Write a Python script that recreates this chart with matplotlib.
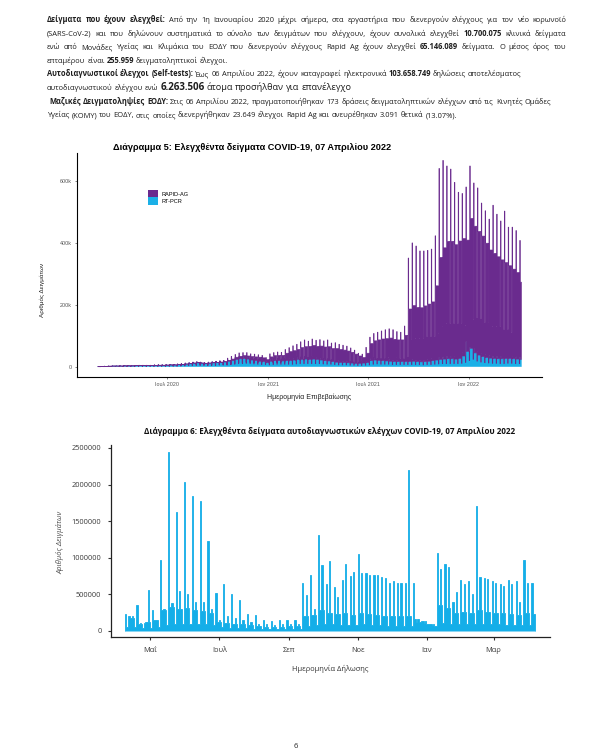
import matplotlib
matplotlib.use('Agg')
import matplotlib.pyplot as plt
import matplotlib.dates as mdates
from matplotlib.patches import Patch
import numpy as np
import pandas as pd

W, H = 613, 754
BODY = ['Open Sans', 'DejaVu Sans']
LIB = ['Liberation Sans', 'DejaVu Sans']
plt.rcParams['font.family'] = BODY

PURPLE = '#6A2B8E'
BLUE = '#1BB0E7'
BLUE2 = '#14AEE8'

# ---------------- Διάγραμμα 5 (thousands per day), week 0 = Mon 24 Feb 2020 ----------------
start1, end1, week0_1 = '2020-02-26', '2022-04-06', '2020-02-24'

pcr_high = [0.5, 1, 2, 2.5, 3, 3, 3.5, 4, 4, 4, 4.5, 5, 5, 5, 5, 6, 6.5, 6.5, 7,
            8, 8, 9, 10, 12, 13, 15, 16, 15, 14, 15, 16, 18, 19, 20, 23, 26,
            30, 33, 34, 32, 28, 26, 23, 22, 18, 24, 26, 26, 25, 26, 27, 28, 31,
            31, 32, 31, 32, 31, 28, 26, 25, 22, 20, 18, 18, 17, 16, 14, 14, 16, 18,
            26, 28, 27, 26, 25, 23, 22, 22, 22, 22, 22, 23, 22, 21, 22, 23, 26,
            28, 31, 32, 34, 34, 32, 35, 45, 81, 62, 60, 50, 43, 39, 36, 35, 34,
            34, 35, 35, 34, 32, 31]
pcr_mid = [0.3, 0.8, 1.5, 2, 2.5, 2.5, 2.5, 3, 3, 3, 3.5, 4, 4, 4, 4, 4.5, 5, 5, 5.5,
           6, 6, 7, 8, 9, 10, 12, 13, 12, 11, 12, 13, 14, 15, 16, 18, 20,
           24, 26, 27, 25, 22, 20, 18, 17, 14, 18, 20, 20, 19, 20, 21, 22, 24,
           24, 25, 24, 25, 24, 22, 20, 19, 17, 15, 14, 14, 13, 12, 11, 11, 12, 14,
           20, 22, 21, 20, 19, 18, 17, 17, 17, 17, 17, 18, 17, 16, 17, 18, 20,
           22, 24, 25, 26, 26, 25, 27, 35, 50, 60, 45, 38, 33, 30, 28, 27, 26,
           26, 27, 27, 26, 25, 24]
pcr_low = [0.1, 0.3, 0.6, 0.8, 1, 1, 1, 1.2, 1.2, 1.2, 1.4, 1.6, 1.6, 1.6, 1.6, 1.8, 2, 2, 2.2,
           2.4, 2.4, 2.8, 3.2, 3.6, 4, 5, 5, 5, 4.5, 5, 5, 6, 6, 6, 7, 8,
           10, 10, 11, 10, 9, 8, 7, 7, 6, 7, 8, 8, 8, 8, 8, 9, 10,
           10, 10, 10, 10, 10, 9, 8, 8, 7, 6, 6, 6, 5, 5, 4, 4, 5, 6,
           8, 9, 8, 8, 8, 7, 7, 7, 7, 7, 7, 7, 7, 6, 7, 7, 8,
           9, 10, 10, 10, 10, 10, 11, 14, 20, 24, 18, 15, 13, 12, 11, 11, 10,
           10, 11, 11, 10, 10, 10]
rapid_peak = [0] * 34 + [5, 8, 10, 12, 12, 14, 14, 15, 16, 15, 12, 18, 20, 22, 22,
                         30, 35, 40, 42, 50, 55, 52, 58, 55, 60, 58, 62, 55,
                         58, 55, 52, 50, 45, 40, 30, 25, 45, 70, 80, 85, 90,
                         95, 100, 98, 92, 90, 110, 330, 378, 369, 354, 353, 354, 355,
                         396, 611, 636, 616, 606, 565, 530, 516, 501, 588, 535, 529, 487,
                         466, 442, 488, 460, 438, 469, 417, 418, 409, 378]
rapid_mid = [0] * 34 + [3, 5, 7, 8, 9, 10, 11, 12, 13, 12, 9, 14, 16, 17, 18,
                        24, 28, 30, 32, 38, 40, 42, 44, 42, 45, 44, 46, 42,
                        44, 42, 40, 38, 35, 30, 24, 18, 30, 55, 62, 66, 70,
                        72, 75, 72, 70, 70, 85, 170, 180, 175, 175, 180, 185, 190,
                        240, 330, 360, 380, 380, 370, 380, 380, 360, 420, 410, 400, 390,
                        370, 350, 340, 330, 320, 310, 300, 290, 280, 250]
rapid_low = [0] * 34 + [1, 2, 3, 3, 4, 4, 4, 5, 5, 4, 4, 6, 6, 7, 7,
                        8, 10, 10, 12, 12, 14, 14, 15, 15, 15, 15, 16, 14,
                        14, 13, 13, 12, 12, 10, 8, 6, 8, 15, 18, 20, 20,
                        22, 22, 22, 20, 20, 25, 80, 85, 85, 85, 90, 90, 90,
                        100, 120, 130, 130, 130, 130, 130, 120, 100, 130, 140, 140, 130,
                        130, 120, 120, 120, 110, 110, 100, 100, 100, 90]
ticks1 = ['2020-07-01', '2021-01-01', '2021-07-01', '2022-01-01']
ticklabels1 = ['Ιουλ 2020', 'Ιαν 2021', 'Ιουλ 2021', 'Ιαν 2022']
yticks1 = [0, 200000, 400000, 600000]
yticklabels1 = ['0', '200k', '400k', '600k']

# ---------------- Διάγραμμα 6 (thousands per day), week 0 = Mon 5 Apr 2021 ----------------
start2, end2, week0_2 = '2021-04-09', '2022-04-06', '2021-04-05'

self_mon = [230, 200, 350, 110, 280, 976, 2440, 1630, 2030, 1850, 1780, 1230, 520, 640,
            500, 430, 230, 220, 150, 130, 150, 150, 150, 660, 770, 1310, 640, 600,
            700, 750, 1050, 790, 760, 740, 650, 650, 650, 650, 130, 100, 1060, 920,
            390, 700, 680, 1710, 720, 680, 640, 690, 680, 970, 650]
self_thu = [200, 200, 110, 555, 150, 300, 380, 550, 500, 400, 400, 300, 150, 200,
            180, 150, 120, 100, 90, 80, 90, 90, 90, 490, 300, 900, 950, 470,
            910, 810, 790, 770, 760, 720, 680, 650, 2200, 120, 110, 80, 840, 870,
            530, 640, 500, 740, 710, 660, 620, 640, 400, 650, 0]
self_mid = [230, 180, 100, 120, 150, 280, 330, 300, 320, 280, 270, 250, 120, 110,
            100, 90, 80, 70, 60, 60, 60, 70, 70, 200, 220, 280, 250, 230,
            240, 220, 250, 230, 220, 210, 200, 200, 200, 170, 130, 100, 350, 320,
            250, 260, 250, 280, 260, 250, 240, 230, 220, 240, 230]
self_wkd = [60, 50, 40, 40, 50, 80, 100, 100, 100, 90, 90, 80, 50, 40,
            40, 35, 30, 30, 25, 25, 25, 25, 30, 70, 80, 90, 90, 80,
            80, 80, 90, 80, 80, 75, 75, 70, 70, 120, 90, 70, 110, 100,
            90, 90, 90, 100, 90, 90, 85, 80, 80, 80, 80]
ticks2 = ['2021-05-01', '2021-07-01', '2021-09-01', '2021-11-01', '2022-01-01', '2022-03-01']
ticklabels2 = ['Μαΐ', 'Ιουλ', 'Σεπ', 'Νοε', 'Ιαν', 'Μαρ']
yticks2 = [0, 500000, 1000000, 1500000, 2000000, 2500000]


def daily(start, end, week0, by_weekday):
    # pick each day's reading from the weekly list of its weekday type
    days = pd.date_range(start, end)
    wk = (days - pd.Timestamp(week0)).days // 7
    vals = np.array([by_weekday[d][w] for w, d in zip(wk, days.weekday)], dtype=float)
    x = mdates.date2num(days)
    edges = np.append(x - 0.5, x[-1] + 0.5)  # one-day bars
    return edges, vals * 1000


e1, pcr = daily(start1, end1, week0_1,
                [pcr_high] + [pcr_mid] * 5 + [pcr_low])
_, rapid = daily(start1, end1, week0_1,
                 [rapid_peak] + [rapid_mid] * 5 + [rapid_low])
e2, selft = daily(start2, end2, week0_2,
                  [self_mon, self_mid, self_mid, self_thu, self_mid, self_wkd, self_wkd])

fig = plt.figure(figsize=(W / 100, H / 100), dpi=100)
fig.patch.set_facecolor('white')
renderer = fig.canvas.get_renderer()


def fx(x):
    return x / W


def fy(y):
    return 1 - y / H


# ---------------- page text ----------------
STY = {'r': ('normal', 1.0), 'b': ('bold', 1.0), 'B': ('bold', 1.3), 'R': ('normal', 1.22)}


def words_of(segs):
    words = [[]]
    for text, st in segs:
        for i, p in enumerate(text.split(' ')):
            if i > 0:
                words.append([])
            if p:
                words[-1].append((p, st))
    return [w for w in words if w]


def put_line(y, segs, size, x0=46, x1=None):
    items = []
    for word in words_of(segs):
        pieces = []
        for txt, st in word:
            wt, k = STY[st]
            t = fig.text(0, 0, txt, fontsize=size * k, fontweight=wt, color='#1e1e1e',
                         va='baseline', ha='left')
            pieces.append((t, t.get_window_extent(renderer).width))
        items.append(pieces)
    total = sum(w for p in items for _, w in p)
    if x1 is None:
        a = fig.text(0, 0, 'x x', fontsize=size)
        b = fig.text(0, 0, 'xx', fontsize=size)
        gap = a.get_window_extent(renderer).width - b.get_window_extent(renderer).width
        a.remove()
        b.remove()
    else:
        gap = (x1 - x0 - total) / (len(items) - 1)
    x = x0
    for pieces in items:
        for t, w in pieces:
            t.set_position((fx(x), fy(y)))
            x += w
        x += gap


lines = [
    ([('Δείγματα που έχουν ελεγχθεί:', 'b'),
      (' Από την 1η Ιανουαρίου 2020 μέχρι σήμερα, στα εργαστήρια που διενεργούν ελέγχους για τον νέο κορωνοϊό', 'r')], True),
    ([('(SARS-CoV-2) και που δηλώνουν συστηματικά το σύνολο των δειγμάτων που ελέγχουν, έχουν συνολικά ελεγχθεί ', 'r'),
      ('10.700.075', 'b'), (' κλινικά δείγματα', 'r')], True),
    ([('ενώ από Μονάδες Υγείας και Κλιμάκια του ΕΟΔΥ που διενεργούν ελέγχους Rapid Ag έχουν ελεγχθεί ', 'r'),
      ('65.146.089', 'b'), (' δείγματα. Ο μέσος όρος του', 'r')], True),
    ([('επταμέρου είναι ', 'r'), ('255.959', 'b'), (' δειγματοληπτικοί έλεγχοι.', 'r')], False),
    ([('Αυτοδιαγνωστικοί έλεγχοι (Self-tests):', 'b'),
      (' Έως 06 Απριλίου 2022, έχουν καταγραφεί ηλεκτρονικά ', 'r'), ('103.658.749', 'b'),
      (' δηλώσεις αποτελέσματος', 'r')], False),
    ([('αυτοδιαγνωστικού ελέγχου ενώ ', 'r'), ('6.263.506', 'B'),
      (' άτομα προσήλθαν για επανέλεγχο', 'R')], False),
    ([('Μαζικές Δειγματοληψίες ΕΟΔΥ:', 'b'),
      (' Στις 06 Απριλίου 2022, πραγματοποιήθηκαν 173 δράσεις δειγματοληπτικών ελέγχων από τις Κινητές Ομάδες', 'r')], False),
    ([('Υγείας (ΚΟΜΥ) του ΕΟΔΥ, στις οποίες διενεργήθηκαν 23.649 έλεγχοι Rapid Ag και ανευρέθηκαν 3.091 θετικά (13.07%).', 'r')], False),
]

# size the body from the width of the last (ragged) line
probe = fig.text(0, 0, lines[-1][0][0][0], fontsize=10)
body_size = 10 * 412 / probe.get_window_extent(renderer).width
probe.remove()

for i, (segs, just) in enumerate(lines):
    yb = 22 + 13.6 * i
    x0 = 49 if i == 6 else 47
    put_line(yb, segs, body_size, x0=x0, x1=566 if just else None)

# ---------------- Διάγραμμα 5 ----------------
t1 = fig.text(fx(252), fy(147), 'Διάγραμμα 5: Ελεγχθέντα δείγματα COVID-19, 07 Απριλίου 2022',
              family=LIB, fontweight='bold', fontsize=6, ha='center', va='center')
t1.set_fontsize(6 * 279 / t1.get_window_extent(renderer).width)

ax1 = fig.add_axes([fx(77), fy(377), (542 - 77) / W, (377 - 153) / H])
ax1.stairs(pcr, e1, baseline=0, fill=True, facecolor=BLUE, edgecolor=BLUE, linewidth=0.3)
ax1.stairs(pcr + rapid, e1, baseline=pcr, fill=True, facecolor=PURPLE, edgecolor=PURPLE,
           linewidth=0.45)
ax1.set_xlim(mdates.date2num(pd.Timestamp('2020-01-19')), mdates.date2num(pd.Timestamp('2022-05-14')))
ax1.set_ylim(-33000, 692000)
ax1.set_xticks(mdates.date2num(pd.to_datetime(ticks1)))
ax1.set_xticklabels(ticklabels1, family=LIB)
ax1.set_yticks(yticks1)
ax1.set_yticklabels(yticklabels1, family=LIB)
ax1.tick_params(length=1.5, width=0.5, color='#555555', labelsize=3.9, labelcolor='#555555', pad=2)
for s in ['top', 'right']:
    ax1.spines[s].set_visible(False)
for s in ['left', 'bottom']:
    ax1.spines[s].set_linewidth(0.8)
    ax1.spines[s].set_color('black')
ax1.patch.set_alpha(0)

ax1.legend(handles=[Patch(facecolor=PURPLE, label='RAPID-AG'), Patch(facecolor=BLUE, label='RT-PCR')],
           loc='upper left', bbox_to_anchor=(fx(148), fy(190)), bbox_transform=fig.transFigure,
           frameon=False, prop={'family': LIB, 'size': 4.1}, handlelength=1.8, handleheight=1.6,
           handletextpad=0.6, labelspacing=0.0, borderpad=0, borderaxespad=0)

fig.text(fx(42), fy(290), 'Αριθμός Δειγμάτων', family=LIB, fontsize=4.6, rotation=90,
         ha='center', va='center', color='#222222')
fig.text(fx(309), fy(397), 'Ημερομηνία Επιβεβαίωσης', family=LIB, fontsize=5.0,
         ha='center', va='center', color='#222222')

# ---------------- Διάγραμμα 6 ----------------
t2 = fig.text(fx(330), fy(431),
              'Διάγραμμα 6: Ελεγχθέντα δείγματα αυτοδιαγνωστικών ελέγχων COVID-19, 07 Απριλίου 2022',
              fontweight='bold', fontsize=6, ha='center', va='center', color='#111111')
t2.set_fontsize(6 * 373 / t2.get_window_extent(renderer).width)

ax2 = fig.add_axes([fx(111), fy(637), (550 - 111) / W, (637 - 445) / H])
ax2.stairs(selft, e2, baseline=0, fill=True, facecolor=BLUE2, edgecolor=BLUE2, linewidth=0.6)
ax2.set_xlim(mdates.date2num(pd.Timestamp('2021-03-27')), mdates.date2num(pd.Timestamp('2022-04-20')))
ax2.set_ylim(-82000, 2540000)
ax2.set_xticks(mdates.date2num(pd.to_datetime(ticks2)))
ax2.set_xticklabels(ticklabels2)
ax2.set_yticks(yticks2)
ax2.set_yticklabels([str(v) for v in yticks2])
ax2.tick_params(length=2.4, width=0.8, color='#333333', labelsize=5.3, labelcolor='#3a3a3a', pad=4.5)
for s in ['top', 'right']:
    ax2.spines[s].set_visible(False)
for s in ['left', 'bottom']:
    ax2.spines[s].set_linewidth(0.9)
    ax2.spines[s].set_color('#222222')
ax2.patch.set_alpha(0)

fig.text(fx(60), fy(542), 'Αριθμός Δειγμάτων', fontsize=5.4, rotation=90, style='italic',
         ha='center', va='center', color='#4a4a4a')
fig.text(fx(330), fy(669), 'Ημερομηνία Δήλωσης', fontsize=5.4, ha='center', va='center',
         color='#333333')

fig.text(fx(296), fy(746), '6', fontsize=5.5, ha='center', va='center', color='#222222')

fig.savefig('out.png', dpi=100, facecolor='white')
